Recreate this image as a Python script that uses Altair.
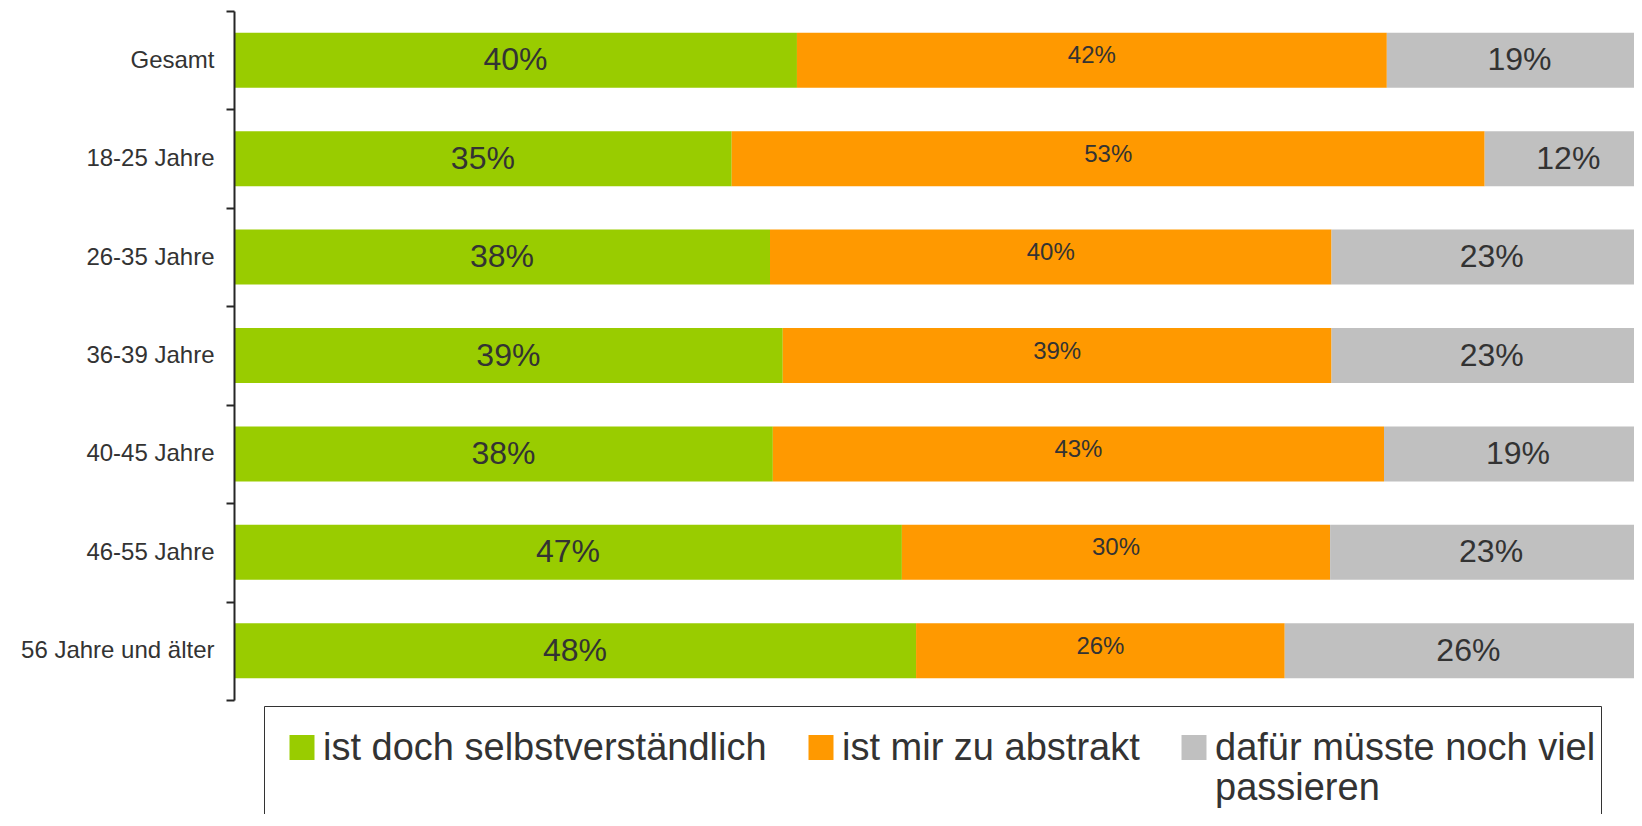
import altair as alt
import pandas as pd

categories = ["Gesamt", "18-25 Jahre", "26-35 Jahre", "36-39 Jahre",
              "40-45 Jahre", "46-55 Jahre", "56 Jahre und älter"]
answers = ["ist doch selbstverständlich", "ist mir zu abstrakt",
           "dafür müsste noch viel passieren"]
selbstverstaendlich = [39.7, 35.1, 37.8, 38.7, 38.0, 47.1, 48.1]
abstrakt = [41.6, 53.1, 39.6, 38.7, 43.1, 30.2, 26.0]
passieren = [18.7, 11.8, 22.6, 22.6, 18.9, 22.7, 25.9]
colors = ["#99CC00", "#FF9900", "#C0C0C0"]

rows = []
for series_idx, (answer, values) in enumerate(zip(answers, [selbstverstaendlich, abstrakt, passieren])):
    for cat, v in zip(categories, values):
        rows.append({"Gruppe": cat, "Antwort": answer, "Wert": v, "Reihe": series_idx})
df = pd.DataFrame(rows)

FONT = "Liberation Sans"

base = alt.Chart(df).transform_stack(
    stack="Wert", groupby=["Gruppe"], as_=["x0", "x1"],
    sort=[alt.SortField("Reihe", order="ascending")]
).transform_calculate(
    mid="(datum.x0 + datum.x1) / 2",
    lab="format(datum.Wert, '.0f') + '%'"
)

y_enc = alt.Y("Gruppe:N", sort=categories,
              scale=alt.Scale(paddingInner=0, paddingOuter=0),
              axis=alt.Axis(title=None, tickBand="extent", domainColor="#262626",
                            tickColor="#262626", domainWidth=2, tickWidth=2, tickSize=8,
                            labelFontSize=24, labelColor="#333333", labelFont=FONT,
                            labelPadding=12, labelLimit=400, zindex=1))
x_scale = alt.Scale(domain=[0, 100], range=[0, 1418])

label_expr = ("datum.label == 'dafür müsste noch viel passieren' "
              "? ['dafür müsste noch viel', 'passieren', ''] : [datum.label, '', '']")

bars = base.mark_bar(size=55).encode(
    x=alt.X("x0:Q", scale=x_scale, axis=None),
    x2="x1:Q",
    y=y_enc,
    color=alt.Color("Antwort:N", sort=answers,
                    scale=alt.Scale(domain=answers, range=colors),
                    legend=alt.Legend(
                        title=None, orient="none", legendX=30, legendY=695,
                        direction="horizontal", columns=3,
                        symbolType="M-1,0.4L1,0.4L1,2.4L-1,2.4Z",
                        symbolSize=625, symbolStrokeWidth=0, symbolOpacity=1,
                        symbolOffset=14,
                        labelFontSize=38, labelFont=FONT, labelColor="#333333",
                        labelLimit=800, labelOffset=2, columnPadding=21,
                        padding=5, strokeColor="#333333", fillColor="white",
                        labelBaseline="top", labelExpr=label_expr)),
    order=alt.Order("Reihe:Q"),
)

big_labels = base.transform_filter("datum.Reihe != 1").mark_text(
    fontSize=32, font=FONT, color="#333333", baseline="middle"
).encode(
    x=alt.X("mid:Q", scale=x_scale, axis=None),
    y=alt.Y("Gruppe:N", sort=categories),
    text="lab:N",
)

small_labels = base.transform_filter("datum.Reihe == 1").mark_text(
    fontSize=24, font=FONT, color="#333333", baseline="middle", dy=-4
).encode(
    x=alt.X("mid:Q", scale=x_scale, axis=None),
    y=alt.Y("Gruppe:N", sort=categories),
    text="lab:N",
)

chart = alt.layer(bars, big_labels, small_labels).properties(
    width=1400, height=689,
    autosize=alt.AutoSizeParams(type="none"),
    padding={"left": 226, "top": 3, "right": 0, "bottom": 114},
).configure(font=FONT).configure_view(stroke=None)

chart.save("out.html", embed_options={"renderer": "svg", "actions": False})
